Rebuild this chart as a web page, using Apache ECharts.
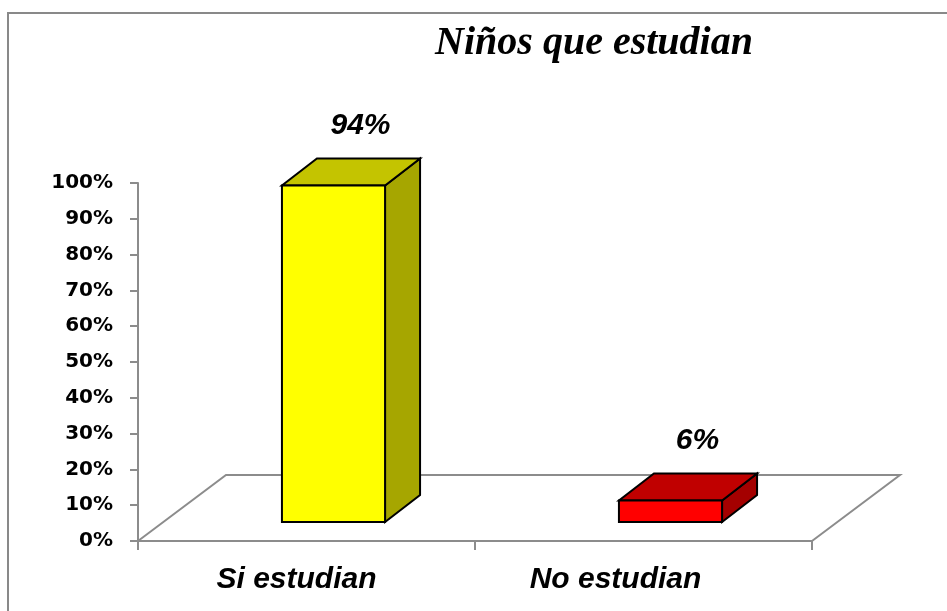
<!DOCTYPE html>
<html>
<head>
<meta charset="utf-8">
<script src="https://cdn.jsdelivr.net/npm/echarts@6/dist/echarts.min.js"></script>
<style>
  html, body { margin: 0; padding: 0; background: #ffffff; }
  #chart { width: 947px; height: 611px; }
</style>
</head>
<body>
<div id="chart"></div>
<script>
// ---- data ----
const titleText = 'Niños que estudian';
const categories = ['Si estudian', 'No estudian'];
const values = [0.94, 0.06];
const yTicks = [0, 0.1, 0.2, 0.3, 0.4, 0.5, 0.6, 0.7, 0.8, 0.9, 1.0];

// ---- styles ----
const palette = [
  { front: '#ffff00', top: '#c4c400', side: '#a6a600' },
  { front: '#ff0000', top: '#c00000', side: '#a40000' }
];
const gridGray = '#8c8c8c';

const chart = echarts.init(document.getElementById('chart'), null, { renderer: 'canvas' });

const option = {
  animation: false,
  backgroundColor: '#ffffff',
  title: {
    text: titleText,
    left: 589,
    textAlign: 'center',
    top: 19,
    textStyle: {
      fontFamily: 'Liberation Serif',
      fontWeight: 'bold',
      fontStyle: 'italic',
      fontSize: 40,
      color: '#000000'
    }
  },
  graphic: [{
    type: 'rect',
    z: -10,
    shape: { x: 8, y: 13, width: 1000, height: 700 },
    style: { fill: 'none', stroke: '#898989', lineWidth: 2 }
  }],
  grid: { left: 138, right: 135, top: 183, bottom: 70 },
  xAxis: {
    type: 'category',
    data: categories,
    axisLine: { show: true, lineStyle: { color: gridGray, width: 2 } },
    axisTick: { show: true, length: 9, lineStyle: { color: gridGray, width: 2 } },
    axisLabel: {
      margin: 24,
      fontFamily: 'Liberation Sans',
      fontWeight: 'bold',
      fontStyle: 'italic',
      fontSize: 30,
      color: '#000000',
      formatter: function (val, idx) { return '{c' + idx + '|' + val + '}'; },
      rich: {
        c0: { fontFamily: 'Liberation Sans', fontWeight: 'bold', fontStyle: 'italic', fontSize: 30, color: '#000', padding: [0, 20, 0, 0] },
        c1: { fontFamily: 'Liberation Sans', fontWeight: 'bold', fontStyle: 'italic', fontSize: 30, color: '#000', padding: [0, 56, 0, 0] }
      }
    },
    splitLine: { show: false }
  },
  yAxis: {
    type: 'value',
    min: yTicks[0],
    max: yTicks[yTicks.length - 1],
    interval: yTicks[1] - yTicks[0],
    axisLine: { show: true, lineStyle: { color: gridGray, width: 2 } },
    axisTick: { show: true, length: 8, lineStyle: { color: gridGray, width: 2 } },
    axisLabel: {
      margin: 25,
      fontFamily: 'DejaVu Sans',
      fontWeight: 'bold',
      fontSize: 20,
      color: '#000000',
      formatter: function (v) { return Math.round(v * 100) + '%'; }
    },
    splitLine: { show: false }
  },
  series: [
    {
      // 3D floor plane
      type: 'custom',
      z: 1,
      silent: true,
      data: [[0, 0]],
      renderItem: function (params, api) {
        const cs = params.coordSys;
        const x0 = cs.x, x1 = cs.x + cs.width, y0 = cs.y + cs.height;
        const dx = 88, dy = -66;
        return {
          type: 'polyline',
          shape: { points: [[x0, y0], [x0 + dx, y0 + dy], [x1 + dx, y0 + dy], [x1, y0]] },
          style: { fill: 'none', stroke: gridGray, lineWidth: 2 }
        };
      }
    },
    {
      // 3D bars
      type: 'custom',
      z: 3,
      data: values.map(function (v, i) { return [i, v]; }),
      encode: { x: 0, y: 1 },
      renderItem: function (params, api) {
        const i = api.value(0);
        const v = api.value(1);
        const base = api.coord([i, 0]);
        const top = api.coord([i, v]);
        const band = api.size([1, 0])[0];
        const w = band * 0.306;
        const fx = 27, fy = -19;   // front face offset into depth
        const dx = 35, dy = -27;   // bar depth
        const x0 = base[0] - w / 2 + fx, x1 = x0 + w;
        const yb = base[1] + fy, yt = top[1] + fy;
        const c = palette[i % palette.length];
        const stroke = { stroke: '#000000', lineWidth: 2, lineJoin: 'miter' };
        return {
          type: 'group',
          children: [
            {
              type: 'polygon',
              shape: { points: [[x1, yt], [x1 + dx, yt + dy], [x1 + dx, yb + dy], [x1, yb]] },
              style: Object.assign({ fill: c.side }, stroke)
            },
            {
              type: 'polygon',
              shape: { points: [[x0, yt], [x1, yt], [x1 + dx, yt + dy], [x0 + dx, yt + dy]] },
              style: Object.assign({ fill: c.top }, stroke)
            },
            {
              type: 'rect',
              shape: { x: x0, y: yt, width: w, height: yb - yt },
              style: Object.assign({ fill: c.front }, stroke)
            },
            {
              type: 'text',
              x: x0 + w / 2 + dx - 8,
              y: yt + dy - 33,
              style: {
                text: Math.round(v * 100) + '%',
                fontFamily: 'Liberation Sans',
                fontWeight: 'bold',
                fontStyle: 'italic',
                fontSize: 30,
                fill: '#000000',
                align: 'center',
                verticalAlign: 'middle'
              }
            }
          ]
        };
      }
    }
  ]
};

chart.setOption(option);
</script>
</body>
</html>
